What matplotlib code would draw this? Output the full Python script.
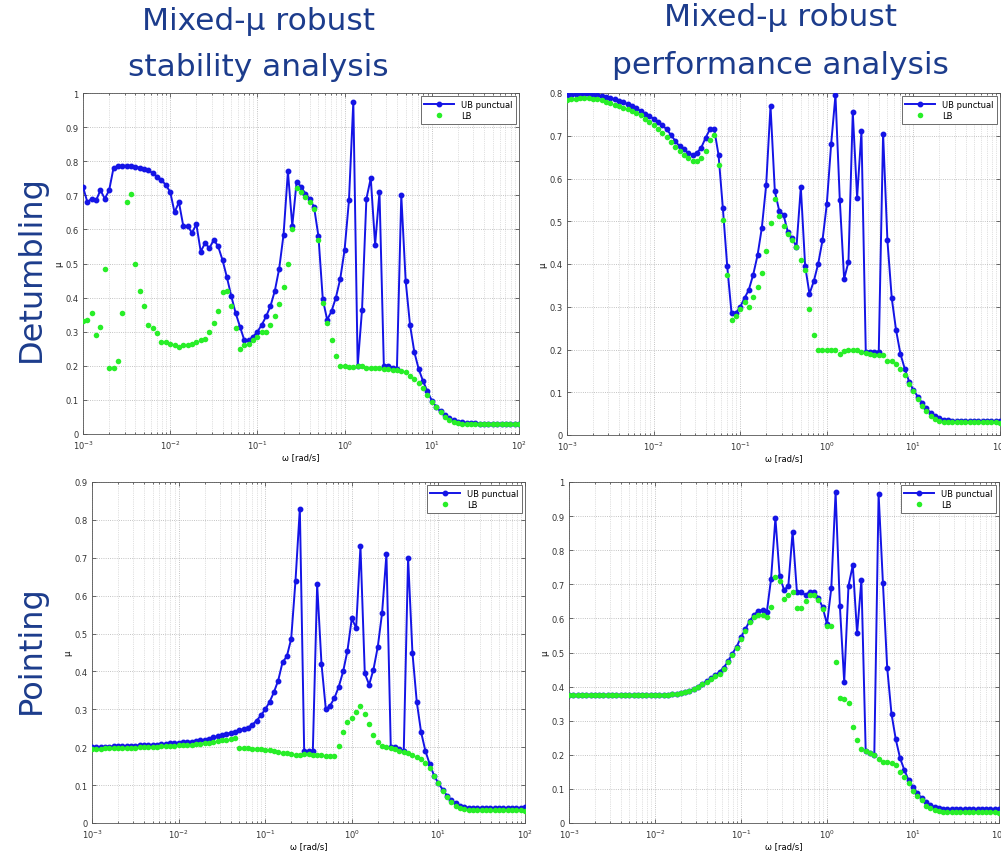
import matplotlib
matplotlib.use("Agg")
import matplotlib.pyplot as plt
import numpy as np
from matplotlib.ticker import LogLocator, MultipleLocator, FormatStrFormatter, NullFormatter

# frequency grid used for the mu sweep (rad/s)
omega = np.logspace(-3, 2, 101)

# Detumbling - robust stability
det_stab_ub = [
    0.725, 0.68, 0.69, 0.685, 0.715, 0.69, 0.715, 0.78, 0.785, 0.787,
    0.787, 0.786, 0.784, 0.781, 0.778, 0.773, 0.765, 0.755, 0.745, 0.73,
    0.71, 0.65, 0.68, 0.61, 0.61, 0.59, 0.615, 0.535, 0.56, 0.545,
    0.57, 0.55, 0.51, 0.46, 0.405, 0.355, 0.315, 0.275, 0.275, 0.285,
    0.3, 0.32, 0.345, 0.375, 0.42, 0.485, 0.585, 0.77, 0.61, 0.74,
    0.725, 0.705, 0.69, 0.665, 0.58, 0.395, 0.335, 0.36, 0.4, 0.455,
    0.54, 0.685, 0.975, 0.2, 0.365, 0.69, 0.75, 0.555, 0.71, 0.2,
    0.2, 0.195, 0.19, 0.7, 0.45, 0.32, 0.24, 0.19, 0.155, 0.125,
    0.098, 0.08, 0.066, 0.055, 0.046, 0.04, 0.036, 0.034, 0.032, 0.031,
    0.031, 0.03, 0.03, 0.03, 0.03, 0.03, 0.03, 0.03, 0.03, 0.03, 0.03,
]
det_stab_lb = [
    0.33, 0.335, 0.355, 0.29, 0.315, 0.485, 0.195, 0.195, 0.215, 0.355,
    0.68, 0.705, 0.5, 0.42, 0.375, 0.32, 0.31, 0.295, 0.27, 0.27,
    0.265, 0.26, 0.255, 0.26, 0.26, 0.265, 0.27, 0.275, 0.28, 0.3,
    0.325, 0.36, 0.415, 0.42, 0.375, 0.31, 0.25, 0.26, 0.265, 0.275,
    0.285, 0.3, 0.3, 0.32, 0.345, 0.38, 0.43, 0.5, 0.6, 0.72,
    0.71, 0.695, 0.68, 0.66, 0.57, 0.385, 0.325, 0.275, 0.23, 0.2,
    0.198, 0.197, 0.197, 0.198, 0.2, 0.195, 0.193, 0.195, 0.193, 0.19,
    0.19, 0.188, 0.187, 0.185, 0.181, 0.17, 0.161, 0.15, 0.135, 0.115,
    0.095, 0.078, 0.064, 0.05, 0.04, 0.034, 0.031, 0.03, 0.03, 0.03,
    0.03, 0.03, 0.03, 0.03, 0.03, 0.03, 0.03, 0.03, 0.03, 0.03, 0.028,
]

# Detumbling - robust performance
det_perf_ub = [
    0.795, 0.796, 0.797, 0.797, 0.797, 0.797, 0.796, 0.795, 0.793, 0.791,
    0.788, 0.785, 0.782, 0.778, 0.774, 0.769, 0.764, 0.758, 0.752, 0.746,
    0.74, 0.733, 0.725, 0.715, 0.702, 0.688, 0.675, 0.668, 0.66, 0.655,
    0.66, 0.672, 0.695, 0.715, 0.715, 0.655, 0.53, 0.395, 0.285, 0.285,
    0.3, 0.32, 0.34, 0.375, 0.42, 0.485, 0.585, 0.77, 0.57, 0.525,
    0.515, 0.475, 0.46, 0.44, 0.58, 0.395, 0.33, 0.36, 0.4, 0.455,
    0.54, 0.68, 0.795, 0.55, 0.365, 0.405, 0.755, 0.555, 0.71, 0.195,
    0.195, 0.195, 0.195, 0.705, 0.455, 0.32, 0.245, 0.19, 0.155, 0.125,
    0.105, 0.09, 0.075, 0.062, 0.052, 0.045, 0.04, 0.036, 0.034, 0.033,
    0.032, 0.032, 0.032, 0.032, 0.032, 0.032, 0.032, 0.032, 0.032, 0.032, 0.032,
]
det_perf_lb = [
    0.783, 0.785, 0.787, 0.788, 0.788, 0.788, 0.787, 0.785, 0.783, 0.78,
    0.777, 0.773, 0.77, 0.766, 0.762, 0.758, 0.754, 0.748, 0.74, 0.732,
    0.724, 0.716, 0.706, 0.697, 0.686, 0.674, 0.664, 0.655, 0.647, 0.642,
    0.642, 0.648, 0.665, 0.69, 0.702, 0.632, 0.502, 0.375, 0.27, 0.278,
    0.294, 0.31, 0.3, 0.322, 0.346, 0.38, 0.43, 0.497, 0.553, 0.512,
    0.49, 0.47, 0.455, 0.44, 0.41, 0.385, 0.295, 0.233, 0.198, 0.198,
    0.198, 0.199, 0.2, 0.19, 0.197, 0.2, 0.2, 0.198, 0.195, 0.192,
    0.19, 0.188, 0.187, 0.186, 0.173, 0.173, 0.165, 0.155, 0.14, 0.12,
    0.103, 0.085, 0.068, 0.055, 0.045, 0.037, 0.033, 0.031, 0.03, 0.03,
    0.03, 0.03, 0.03, 0.03, 0.03, 0.03, 0.03, 0.03, 0.03, 0.03, 0.027,
]

# Pointing - robust stability
point_stab_ub = [
    0.2, 0.2, 0.2, 0.201, 0.201, 0.202, 0.202, 0.203, 0.203, 0.204,
    0.204, 0.205, 0.205, 0.206, 0.206, 0.207, 0.208, 0.209, 0.21, 0.211,
    0.212, 0.213, 0.214, 0.215, 0.216, 0.218, 0.22, 0.223, 0.226, 0.229,
    0.232, 0.235, 0.238, 0.241, 0.245, 0.248, 0.252, 0.259, 0.27, 0.284,
    0.3, 0.319, 0.345, 0.376, 0.424, 0.44, 0.486, 0.64, 0.83, 0.19,
    0.19, 0.19, 0.63, 0.42, 0.3, 0.31, 0.33, 0.36, 0.4, 0.455,
    0.54, 0.515, 0.73, 0.395, 0.365, 0.405, 0.465, 0.555, 0.71, 0.2,
    0.2, 0.195, 0.19, 0.7, 0.45, 0.32, 0.24, 0.19, 0.155, 0.125,
    0.105, 0.088, 0.072, 0.06, 0.052, 0.046, 0.042, 0.04, 0.039, 0.039,
    0.039, 0.039, 0.039, 0.039, 0.039, 0.039, 0.039, 0.039, 0.039, 0.039, 0.042,
]
point_stab_lb = [
    0.196, 0.196, 0.196, 0.197, 0.197, 0.197, 0.198, 0.198, 0.198, 0.199,
    0.199, 0.2, 0.2, 0.2, 0.201, 0.201, 0.202, 0.202, 0.203, 0.204,
    0.205, 0.205, 0.206, 0.207, 0.208, 0.209, 0.21, 0.212, 0.214, 0.216,
    0.218, 0.22, 0.223, 0.225, 0.199, 0.198, 0.197, 0.196, 0.195, 0.194,
    0.193, 0.192, 0.19, 0.188, 0.186, 0.185, 0.183, 0.18, 0.18, 0.182,
    0.183, 0.18, 0.18, 0.18, 0.178, 0.177, 0.178, 0.204, 0.24, 0.266,
    0.278, 0.292, 0.31, 0.288, 0.262, 0.233, 0.215, 0.204, 0.2, 0.197,
    0.195, 0.19, 0.188, 0.185, 0.18, 0.175, 0.168, 0.158, 0.145, 0.125,
    0.105, 0.085, 0.068, 0.055, 0.045, 0.04, 0.036, 0.034, 0.033, 0.033,
    0.033, 0.033, 0.033, 0.033, 0.033, 0.033, 0.033, 0.033, 0.033, 0.033, 0.032,
]

# Pointing - robust performance
point_perf_ub = [
    0.375, 0.375, 0.375, 0.375, 0.375, 0.375, 0.375, 0.375, 0.375, 0.375,
    0.375, 0.375, 0.375, 0.375, 0.375, 0.375, 0.375, 0.375, 0.375, 0.375,
    0.375, 0.375, 0.376, 0.376, 0.377, 0.378, 0.38, 0.383, 0.387, 0.393,
    0.4, 0.408, 0.416, 0.424, 0.433, 0.443, 0.456, 0.474, 0.497, 0.517,
    0.545, 0.568, 0.592, 0.61, 0.622, 0.625, 0.618, 0.717, 0.894, 0.723,
    0.684, 0.694, 0.854, 0.678, 0.678, 0.668, 0.678, 0.678, 0.66, 0.632,
    0.583, 0.689, 0.971, 0.635, 0.413, 0.696, 0.756, 0.556, 0.713, 0.21,
    0.205, 0.2, 0.965, 0.705, 0.455, 0.32, 0.245, 0.19, 0.155, 0.125,
    0.105, 0.088, 0.073, 0.062, 0.053, 0.047, 0.043, 0.041, 0.04, 0.04,
    0.04, 0.04, 0.04, 0.04, 0.04, 0.04, 0.04, 0.04, 0.04, 0.04, 0.042,
]
point_perf_lb = [
    0.375, 0.375, 0.375, 0.375, 0.375, 0.375, 0.375, 0.375, 0.375, 0.375,
    0.375, 0.375, 0.375, 0.375, 0.375, 0.375, 0.375, 0.375, 0.375, 0.375,
    0.375, 0.375, 0.375, 0.376, 0.377, 0.378, 0.38, 0.383, 0.387, 0.393,
    0.4, 0.407, 0.414, 0.422, 0.43, 0.437, 0.452, 0.471, 0.494, 0.513,
    0.54, 0.564, 0.588, 0.605, 0.61, 0.61, 0.603, 0.632, 0.72, 0.71,
    0.657, 0.668, 0.678, 0.63, 0.63, 0.65, 0.668, 0.668, 0.655, 0.627,
    0.578, 0.578, 0.473, 0.366, 0.364, 0.351, 0.281, 0.242, 0.218, 0.21,
    0.205, 0.2, 0.188, 0.18, 0.18, 0.177, 0.17, 0.149, 0.135, 0.118,
    0.095, 0.08, 0.066, 0.05, 0.043, 0.038, 0.035, 0.033, 0.032, 0.032,
    0.032, 0.032, 0.032, 0.032, 0.032, 0.032, 0.032, 0.032, 0.032, 0.032, 0.03,
]

col_titles = [("Mixed-\u03bc robust", "stability analysis"),
              ("Mixed-\u03bc robust", "performance analysis")]
row_titles = ["Detumbling", "Pointing"]
y_tops = [[1.0, 0.8], [0.9, 1.0]]

UB_COLOR = '#1414e6'
LB_COLOR = '#28ee28'
TITLE_COLOR = '#1c3c8c'

W, H = 1001, 854

# axes boxes in pixels: left, right, top, bottom
boxes = [
    [(83, 519, 94, 435), (567, 1000, 94, 436)],
    [(92, 525, 483, 824), (569, 999, 483, 824)],
]

series = [
    [(det_stab_ub, det_stab_lb), (det_perf_ub, det_perf_lb)],
    [(point_stab_ub, point_stab_lb), (point_perf_ub, point_perf_lb)],
]


def set_axes(ax, ytop) -> None:
    ax.set_xscale('log')
    ax.set_xlim(1e-3, 1e2)
    ax.set_ylim(0, ytop)
    ax.xaxis.set_major_locator(LogLocator(base=10, numticks=10))
    ax.xaxis.set_minor_locator(LogLocator(base=10, subs=np.arange(2, 10), numticks=100))
    ax.xaxis.set_minor_formatter(NullFormatter())
    ax.yaxis.set_major_locator(MultipleLocator(0.1))
    ax.yaxis.set_major_formatter(FormatStrFormatter('%g'))
    ax.tick_params(which='both', direction='in', top=True, right=True,
                   labelsize=6, width=0.5, colors='#333333')
    ax.tick_params(axis='x', pad=3)
    ax.tick_params(axis='y', pad=3)
    ax.tick_params(which='major', length=3)
    ax.tick_params(which='minor', length=1.5)
    # matlab style dotted grid on both major and minor ticks
    ax.grid(True, which='major', linestyle=':', color='#b0b0b0', linewidth=0.6)
    ax.grid(True, which='minor', axis='x', linestyle=':', color='#c4c4c4', linewidth=0.5)
    for spine in ax.spines.values():
        spine.set_linewidth(0.6)
        spine.set_color('#555555')
    ax.set_xlabel("\u03c9 [rad/s]", fontsize=6, labelpad=1)
    ax.set_ylabel("\u03bc", fontsize=6, labelpad=2)


fig = plt.figure(figsize=(W / 100, H / 100), dpi=100)

for r in range(2):
    for c in range(2):
        left, right, top, bottom = boxes[r][c]
        ax = fig.add_axes([left / W, 1 - bottom / H, (right - left) / W, (bottom - top) / H])
        ub, lb = series[r][c]
        ax.plot(omega, ub, '-o', color=UB_COLOR, linewidth=1.4, markersize=3.2,
                label='UB punctual', zorder=3)
        ax.plot(omega, lb, 'o', color=LB_COLOR, markersize=4.0, markeredgewidth=0,
                label='LB', zorder=4)
        set_axes(ax, y_tops[r][c])
        leg = ax.legend(loc='upper right', fontsize=6, frameon=True, fancybox=False,
                        framealpha=1, edgecolor='#555555', borderaxespad=0.4,
                        handlelength=3.6, borderpad=0.4, labelspacing=0.3)
        leg.get_frame().set_linewidth(0.6)

# column headers, one text per line
header_x = [258, 780]
header_y = [(22, 68), (18, 65)]
for c in range(2):
    for line, y in zip(col_titles[c], header_y[c]):
        fig.text(header_x[c] / W, 1 - y / H, line, ha='center', va='center',
                 fontsize=22.5, color=TITLE_COLOR)

# row headers
row_y = [269, 650]
for r in range(2):
    fig.text(31 / W, 1 - row_y[r] / H, row_titles[r], ha='center', va='center',
             rotation=90, fontsize=23, color=TITLE_COLOR)

fig.savefig('out.png', dpi=100)
